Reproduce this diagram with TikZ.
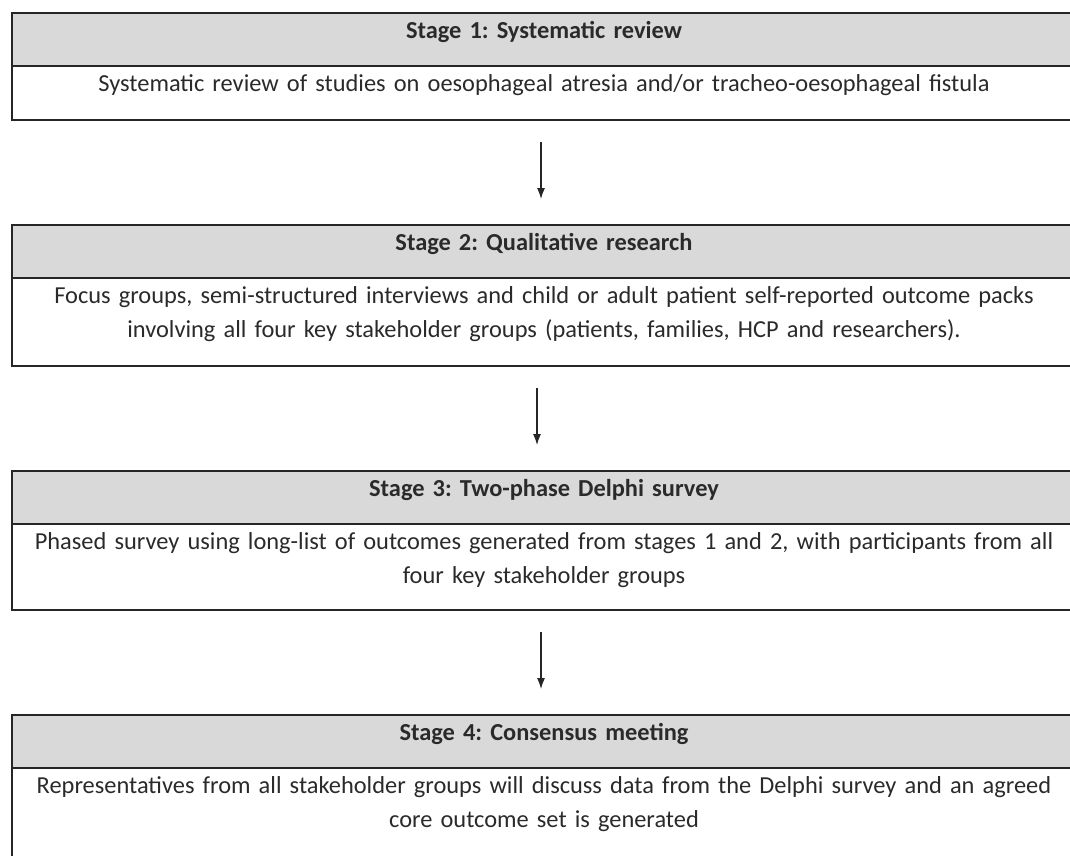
\documentclass[tikz,border=0pt]{standalone}
\usepackage{fontspec}
\setmainfont{Carlito}
\usepackage{xcolor}
\usepackage{tikz}
\usetikzlibrary{arrows.meta,positioning}
\definecolor{HeadGray}{HTML}{D9D9D9}
\definecolor{TextGray}{HTML}{2A2A2A}
\definecolor{LineGray}{HTML}{262626}
\frenchspacing

\begin{document}
\begin{tikzpicture}[
  x=1pt,y=-1pt,
  node distance=105pt,
  head/.style={draw=LineGray,line width=1.4pt,fill=HeadGray,outer sep=0pt,
               text width=1040pt,inner xsep=12pt,inner ysep=8pt,align=center,
               text height=17pt,text depth=20pt,text=TextGray,
               font=\fontsize{24.4}{34}\selectfont\bfseries},
  body/.style={draw=LineGray,line width=1.4pt,outer sep=0pt,
               text width=1040pt,inner xsep=12pt,inner ysep=8pt,align=center,
               text height=17pt,text=TextGray,
               font=\fontsize{24.4}{34}\selectfont},
  arr/.style={-{Latex[length=11pt,width=8pt]},line width=1.2pt,draw=LineGray,
              shorten <=22pt,shorten >=26pt}
]
\useasboundingbox (0,0) rectangle (1070,855);
\node[head,anchor=north west] (stage1) at (12,13) {Stage 1: Systematic review};
\node[body,text depth=21pt,below=0pt of stage1] (stage1txt)
  {Systematic review of studies on oesophageal atresia and/or tracheo-oesophageal fistula};
\node[head,below=of stage1txt] (stage2) {Stage 2: Qualitative research};
\node[body,text depth=55pt,below=0pt of stage2] (stage2txt)
  {Focus groups, semi-structured interviews and child or adult patient self-reported outcome packs\\
   involving all four key stakeholder groups (patients, families, HCP and researchers).};
\node[head,below=of stage2txt] (stage3) {Stage 3: Two-phase Delphi survey};
\node[body,text depth=53pt,below=0pt of stage3] (stage3txt)
  {Phased survey using long-list of outcomes generated from stages 1 and 2, with participants from all\\
   four key stakeholder groups};
\node[head,below=of stage3txt] (stage4) {Stage 4: Consensus meeting};
\node[body,text depth=67pt,below=0pt of stage4] (stage4txt)
  {Representatives from all stakeholder groups will discuss data from the Delphi survey and an agreed\\
   core outcome set is generated};
\draw[arr] ([xshift=-3pt]stage1txt.south) -- ([xshift=-3pt]stage2.north);
\draw[arr] ([xshift=-7pt]stage2txt.south) -- ([xshift=-7pt]stage3.north);
\draw[arr] ([xshift=-3pt]stage3txt.south) -- ([xshift=-3pt]stage4.north);
\end{tikzpicture}
\end{document}
